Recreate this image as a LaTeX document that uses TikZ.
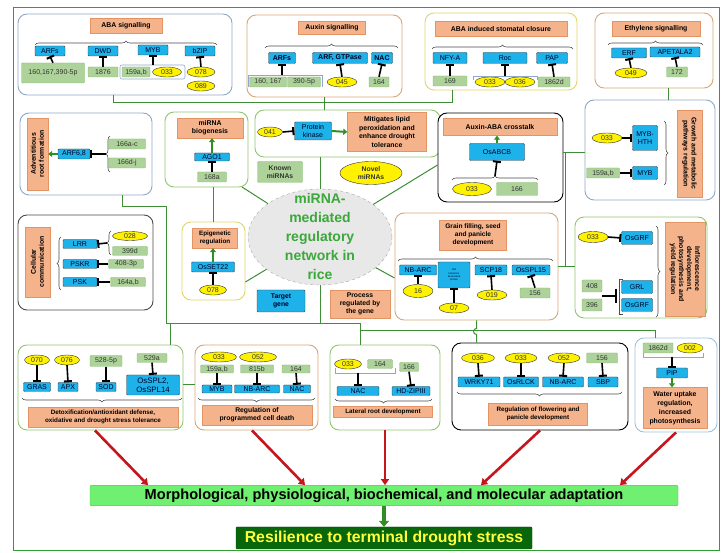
\documentclass[tikz,border=0pt]{standalone}
\usepackage{fontspec}
\setmainfont{Liberation Sans}
\usepackage{tikz}
\usetikzlibrary{arrows,arrows.meta,shapes.geometric,decorations.pathreplacing}
\definecolor{genec}{HTML}{1DB2EA}
\definecolor{mirc}{HTML}{AED39A}
\definecolor{mirline}{HTML}{8CBB76}
\definecolor{procc}{HTML}{F5B38C}
\definecolor{procline}{HTML}{E39464}
\definecolor{linkc}{HTML}{3D8E35}
\definecolor{framec}{HTML}{2FA02F}
\definecolor{bluegray}{HTML}{8FA8C8}
\definecolor{tanc}{HTML}{D9A677}
\definecolor{yelc}{HTML}{E3D46E}
\definecolor{grnc}{HTML}{93C571}
\definecolor{lblue}{HTML}{9CC3E0}
\definecolor{actc}{HTML}{2F8F23}
\definecolor{redc}{HTML}{C4161C}
\definecolor{adaptc}{HTML}{70F070}
\definecolor{adaptline}{HTML}{4CC44C}
\definecolor{resilc}{HTML}{0A660A}
\definecolor{resiltxt}{HTML}{FFFF3C}
\definecolor{hubc}{HTML}{3AA83A}

\begin{document}
\begin{tikzpicture}[x=1pt,y=-1pt,
  panel/.style={draw=#1,line width=0.9pt,rounded corners=9pt,fill=white},
  gene/.style={draw=black!75,fill=genec,text=black!85!blue,rounded corners=1pt,inner sep=0.5pt,minimum height=10pt,font=\fontsize{7}{7.5}\selectfont,align=center},
  bgene/.style={gene,font=\fontsize{7}{7.5}\selectfont\bfseries},
  mir/.style={draw=mirline,fill=mirc,text=black!80,rounded corners=1pt,inner sep=0.5pt,minimum height=10pt,font=\fontsize{7}{7.5}\selectfont,align=center},
  nov/.style={ellipse,draw=black!80,fill=yellow,text=black!80,inner sep=0pt,minimum height=10pt,minimum width=28pt,font=\fontsize{7}{7.5}\selectfont,align=center},
  proc/.style={draw=procline,fill=procc,inner sep=1pt,font=\fontsize{6.9}{8}\selectfont\bfseries,align=center},
  sproc/.style={proc,font=\fontsize{6.3}{7.5}\selectfont\bfseries},
  link/.style={draw=linkc,line width=1pt},
  inhib/.style={line width=1.6pt,black,-{Bar[width=8pt,line width=2pt]}},
  act/.style={line width=2pt,actc,-{Triangle[width=6pt,length=4pt]}},
  redarr/.style={line width=2.6pt,redc,-{Triangle[width=8pt,length=6pt]}},
  grp/.style={decorate,decoration={brace,amplitude=4pt},draw=black!70,line width=0.6pt},
  bkt/.style={draw=bluegray,line width=0.6pt}]
  \useasboundingbox (0,0) rectangle (724,553);
  \draw[framec,line width=1pt] (13,8) rectangle (719,551);

  \node[panel=bluegray,minimum width=214pt,minimum height=81pt] (abasig) at (125,54.5) {};
  \node[panel=tanc,minimum width=155pt,minimum height=82pt] (auxsig) at (324.5,56) {};
  \node[panel=yelc,minimum width=152pt,minimum height=77pt] (stoma) at (501,51.5) {};
  \node[panel=tanc,minimum width=118pt,minimum height=75pt] (ethyl) at (654,50.5) {};
  \node[panel=bluegray,minimum width=132pt,minimum height=82pt] (advroot) at (86,154) {};
  \node[panel=grnc,minimum width=83pt,minimum height=75pt] (biogen) at (206.5,149.5) {};
  \node[panel=grnc,minimum width=185pt,minimum height=47pt] (lipid) at (347.5,133.5) {};
  \node[panel=black,minimum width=125pt,minimum height=89pt] (crosstalk) at (500.5,157.5) {};
  \node[panel=bluegray,minimum width=130pt,minimum height=100pt] (growth) at (650,150) {};
  \node[panel=black!70,minimum width=135pt,minimum height=95pt] (cellcom) at (85.5,262.5) {};
  \node[panel=yelc,minimum width=63pt,minimum height=78pt] (epigen) at (213.5,261) {};
  \node[panel=tanc,minimum width=163pt,minimum height=107pt] (grain) at (476.5,266.5) {};
  \node[panel=grnc,minimum width=132pt,minimum height=101pt] (infl) at (641,267.5) {};
  \node[panel=grnc,minimum width=165pt,minimum height=85pt] (detox) at (100.5,387.5) {};
  \node[panel=tanc,minimum width=123pt,minimum height=85pt] (pcd) at (256.5,387.5) {};
  \node[panel=grnc,minimum width=110pt,minimum height=85pt] (latroot) at (385,387.5) {};
  \node[panel=black,minimum width=176pt,minimum height=87pt] (flower) at (540,386.5) {};
  \node[panel=lblue,minimum width=82pt,minimum height=94pt] (water) at (676,385) {};
  \node[ellipse,draw=gray!70,dashed,fill=gray!18,minimum width=144pt,minimum height=96pt] (hub) at (320,237) {};
  \node[text=hubc,font=\fontsize{14}{19}\selectfont\bfseries,align=center] (hubtxt) at (320,236) {miRNA-\\mediated\\regulatory\\network in\\rice};

  \coordinate (t1) at (113,103);
  \coordinate (t2) at (452,103);
  \coordinate (r1) at (565,153);
  \coordinate (r2) at (565,267);
  \coordinate (b1) at (122,207);
  \coordinate (b2) at (166,207);
  \coordinate (b3) at (166,324);
  \coordinate (b4) at (360,324);
  \coordinate (b5) at (360,331);
  \coordinate (b6) at (655,331);
  \draw[link] (abasig.south -| t1) -- (t1) -- (t2) -- (stoma.south -| t2);
  \draw[link] (auxsig.south) -- (lipid.north -| auxsig.south);
  \draw[link] (ethyl.south -| 668,0) -- (growth.north -| 668,0);
  \draw[link] (biogen.south -| epigen.north) -- (epigen.north);
  \draw[link] (242,187) -- (hub);
  \draw[link] (lipid.south -| hub.north) -- (hub.north);
  \draw[link] (crosstalk.west |- 0,165) -- (hub);
  \draw[link] (epigen.east |- 0,282) -- (hub);
  \draw[link] (grain.west |- 0,278) -- (hub);
  \draw[link] (crosstalk.east |- r1) -- (growth.west |- r1);
  \draw[link] (r1) -- (r2);
  \draw[link] (grain.east |- r2) -- (infl.west |- r2);
  \draw[link] (advroot.south -| b1) -- (b1) -- (b2) -- (b3) -- (b4) -- (latroot.north -| b4);
  \draw[link] (b5) -- (b6) -- (water.north -| b6);
  \draw[link] (170,324) -- (detox.north -| 170,324);
  \draw[link] (hub.south) -- (hub.south |- b4);
  \draw[link] (detox.east |- 0,385) -- (pcd.west |- 0,385);
  \draw[link] (grain.south) -- ++(0,8) arc[start angle=90,end angle=270,radius=3pt] -- (flower.north -| grain.south);

  \node[proc,minimum width=72pt,minimum height=15pt] (abalbl) at (126,26) {ABA signalling};
  \draw[grp] (35,45) -- (217,45);
  \node[gene,minimum width=30pt] (aarf) at (50,51) {ARFs};
  \node[gene,minimum width=30pt] (adwd) at (103,51) {DWD};
  \node[gene,minimum width=30pt] (amyb) at (153,50) {MYB};
  \node[gene,minimum width=30pt] (abzip) at (200,51) {bZIP};
  \node[mir,minimum width=63pt,minimum height=20pt] (am1) at (53,73) {160,167,390-5p};
  \node[mir,minimum width=30pt] (am2) at (103,72) {1876};
  \node[mir,minimum width=28pt] (am3) at (136,72) {159a,b};
  \node[nov,minimum width=29pt] (an1) at (167,72) {033};
  \node[nov] (an2) at (201,72) {078};
  \node[nov] (an3) at (201,86) {089};
  \draw[bkt,rounded corners=2pt] (120,65) rectangle (185,79);
  \path[inhib] (am1.north) edge (aarf.south) (am2.north) edge (adwd.south) (153,65) edge (amyb.south) (an2.north) edge (abzip.south);

  \node[proc,minimum width=67pt,minimum height=13pt] (auxlbl) at (332,28) {Auxin signalling};
  \draw[grp] (265,48) -- (398,48);
  \node[bgene,minimum width=27pt,minimum height=11pt] (xarf) at (282,58) {ARFs};
  \node[bgene,minimum width=55pt,minimum height=11pt] (xgtp) at (340,58) {ARF, GTPase};
  \node[bgene,minimum width=21pt,minimum height=11pt] (xnac) at (382,58) {NAC};
  \node[mir,minimum width=37pt] (xm1) at (268,82) {160, 167};
  \node[mir,minimum width=33pt] (xm2) at (304,82) {390-5p};
  \node[nov,minimum width=30pt] (xn1) at (342,82) {045};
  \node[mir,minimum width=20pt] (xm3) at (379,82) {164};
  \draw[bkt] (248,87) -- (248,75) -- (322,75) -- (322,87);
  \path[inhib] (xarf.south |- 0,75) edge (xarf.south) (xn1.north) edge (xgtp.south) (xm3.north) edge (xnac.south);

  \node[proc,minimum width=132pt,minimum height=15pt] (stolbl) at (501,29) {ABA induced stomatal closure};
  \draw[grp] (432,49) -- (573,49);
  \node[gene,minimum width=34pt,minimum height=11pt] (snfy) at (450,58) {NFY-A};
  \node[gene,minimum width=44pt,minimum height=11pt] (sroc) at (505,58) {Roc};
  \node[gene,minimum width=31pt,minimum height=11pt] (spap) at (552,58) {PAP};
  \node[mir,minimum width=34pt] (sm1) at (450,81) {169};
  \node[nov,minimum width=30pt] (sn1) at (490,82) {033};
  \node[nov,minimum width=30pt] (sn2) at (520,82) {036};
  \node[mir,minimum width=32pt] (sm2) at (554,82) {1862d};
  \draw[bkt] (473,80) -- (473,76) -- (537,76) -- (537,80);
  \path[inhib] (sm1.north) edge (snfy.south) (505,76) edge (sroc.south) (sm2.north) edge (spap.south);

  \node[proc,minimum width=88pt,minimum height=15pt] (ethlbl) at (656,29) {Ethylene signalling};
  \draw[grp] (608,45) -- (703,45);
  \node[gene,minimum width=35pt] (eerf) at (629,53) {ERF};
  \node[gene,minimum width=50pt] (eap2) at (675,52) {APETALA2};
  \node[nov,minimum width=32pt] (en1) at (631,73) {049};
  \node[mir,minimum width=21pt] (em1) at (677,72) {172};
  \path[inhib] (en1.north) edge (eerf.south) (em1.north) edge (eap2.south);

  \node[proc,rotate=90,minimum width=72pt,minimum height=21pt] (advlbl) at (37.5,154) {Adventitious\\root formation};
  \node[gene,minimum width=32pt] (varf) at (74,154) {ARF6,8};
  \draw[grp] (110,172) -- (110,136);
  \node[mir,minimum width=37pt] (vm1) at (127,144) {166a-c};
  \node[mir,minimum width=37pt] (vm2) at (127,163) {166d-j};
  \draw[act] (varf.west) -- (advlbl.south);
  \path[inhib] (106,154) edge (varf.east);

  \node[proc,minimum width=66pt,minimum height=20pt] (biolbl) at (210,128) {miRNA\\biogenesis};
  \node[gene,minimum width=35pt,minimum height=8pt] (bago) at (212,157) {AGO1};
  \node[mir,minimum width=29pt] (bm1) at (212,177) {168a};
  \draw[act] (bago.north) -- (biolbl.south -| bago.north);
  \path[inhib] (bm1.north) edge (bago.south);

  \node[nov,minimum width=25pt] (ln1) at (270,132) {041};
  \node[gene,minimum width=37pt,minimum height=18pt] (lpk) at (313,131) {Protein\\kinase};
  \node[proc,minimum width=79pt,minimum height=39pt,font=\fontsize{6.9}{8.5}\selectfont\bfseries] (liplbl) at (387,132) {Mitigates lipid\\peroxidation and\\enhance drought\\tolerance};
  \path[inhib] (ln1.east) edge (lpk.west);
  \draw[act] (lpk.east) -- (liplbl.west);

  \node[mir,minimum width=45pt,minimum height=21pt,font=\fontsize{6.8}{7.8}\selectfont\bfseries] (known) at (280,172) {Known\\miRNAs};
  \node[nov,minimum width=62pt,minimum height=23pt,font=\fontsize{6.8}{7.8}\selectfont\bfseries] (novel) at (371,173) {Novel\\miRNAs};
  \node[gene,minimum width=48pt,minimum height=22pt,font=\fontsize{6.8}{7.8}\selectfont\bfseries] (target) at (281,301) {Target\\gene};
  \node[proc,minimum width=60pt,minimum height=28pt,font=\fontsize{6.8}{8.2}\selectfont\bfseries] (procl) at (360,304) {Process\\regulated by\\the gene};

  \node[proc,minimum width=114pt,minimum height=17pt] (crlbl) at (500,127) {Auxin-ABA crosstalk};
  \node[gene,minimum width=55pt,minimum height=17pt] (cabc) at (497,152) {OsABCB};
  \draw[grp] (452,180) -- (538,180);
  \node[nov,minimum width=39pt,minimum height=13pt] (cn1) at (472,189) {033};
  \node[mir,minimum width=41pt,minimum height=13pt] (cm1) at (517,189) {166};
  \draw[act] (cabc.north) -- (crlbl.south -| cabc.north);
  \path[inhib] (495,176) edge (cabc.south);

  \node[proc,rotate=-90,minimum width=87pt,minimum height=25pt] (grlbl) at (689.5,153.5) {Growth and metabolic\\pathways regulation};
  \node[nov,minimum width=30pt] (gn1) at (607,138) {033};
  \node[gene,minimum width=25pt,minimum height=25pt] (ghth) at (645,138) {MYB-\\HTH};
  \node[mir,minimum width=33pt] (gm1) at (603,173) {159a,b};
  \node[gene,minimum width=25pt,minimum height=13pt] (gmyb) at (645,173) {MYB};
  \draw[grp] (664,121) -- (664,185);
  \path[inhib] (gn1.east) edge (ghth.west) (gm1.east) edge (gmyb.west);

  \node[proc,rotate=90,minimum width=70pt,minimum height=25pt] (cclbl) at (37.5,262) {Cellular\\communication};
  \draw[grp] (61,290) -- (61,237);
  \node[gene,minimum width=34pt,minimum height=9pt] (clrr) at (80,244) {LRR};
  \node[gene,minimum width=34pt,minimum height=9pt] (cpskr) at (80,264) {PSKR};
  \node[gene,minimum width=34pt,minimum height=9pt] (cpsk) at (80,282) {PSK};
  \draw[grp] (111,255) -- (111,231);
  \node[nov,minimum width=35pt,minimum height=9pt] (ccn1) at (130,236) {028};
  \node[mir,minimum width=35pt,minimum height=9pt] (ccm1) at (130,251) {399d};
  \node[mir,minimum width=35pt,minimum height=9pt] (ccm2) at (126,264) {408-3p};
  \node[mir,minimum width=35pt,minimum height=9pt] (ccm3) at (128,282) {164a,b};
  \path[inhib] (107,243) edge (clrr.east) (ccm2.west) edge (cpskr.east) (ccm3.west) edge (cpsk.east);

  \node[sproc,minimum width=45pt,minimum height=20pt] (eplbl) at (215,238) {Epigenetic\\regulation};
  \node[gene,minimum width=43pt] (eset) at (213,267) {OsSET22};
  \node[nov,minimum width=27pt] (epn1) at (213,290) {078};
  \draw[act] (eset.north) -- (eplbl.south -| eset.north);
  \path[inhib] (epn1.north) edge (eset.south);

  \node[sproc,minimum width=67pt,minimum height=30pt,font=\fontsize{6.6}{7.8}\selectfont\bfseries] (gflbl) at (473,235) {Grain filling, seed\\and panicle\\development};
  \draw[grp] (398,261) -- (553,261);
  \node[gene,minimum width=37pt] (fnb) at (418,270) {NB-ARC};
  \node[gene,minimum width=32pt,minimum height=26pt,font=\fontsize{2.6}{3.2}\selectfont] (fsalt) at (454,275) {Salt\\tolerance\\associated\\protein};
  \node[gene,minimum width=32pt] (fscp) at (491,270) {SCP18};
  \node[gene,minimum width=38pt] (fspl) at (531,270) {OsSPL15};
  \node[nov,minimum width=30pt,minimum height=13pt] (fn1) at (418,291) {16};
  \node[nov,minimum width=30pt] (fn2) at (454,308) {07};
  \node[nov,minimum width=30pt] (fn3) at (492,295) {019};
  \node[mir,minimum width=30pt] (fm1) at (535,293) {156};
  \path[inhib] (fn1.north) edge (fnb.south) (fn2.north) edge (fsalt.south) (fn3.north) edge (fscp.south) (fm1.north) edge (fspl.south);

  \node[proc,rotate=-90,minimum width=94pt,minimum height=40pt] (iflbl) at (685,269) {Inflorescence\\development,\\photosynthesis and\\yield regulation};
  \node[nov,minimum width=30pt,minimum height=11pt] (in1) at (593,237) {033};
  \node[gene,minimum width=31pt,minimum height=13pt] (igrf) at (637,238) {OsGRF};
  \node[gene,minimum width=31pt,minimum height=13pt] (igrl) at (637,287) {GRL};
  \node[gene,minimum width=31pt,minimum height=13pt] (igrf2) at (637,305) {OsGRF};
  \node[mir,minimum width=20pt,minimum height=12pt] (im1) at (592,286) {408};
  \node[mir,minimum width=20pt,minimum height=12pt] (im2) at (592,305) {396};
  \draw[grp] (656,226) -- (656,317);
  \draw[black!70,line width=0.6pt] (623,279) -- (619,279) -- (619,314) -- (623,314);
  \path[inhib] (in1.east) edge (igrf.west) (602,296) edge[-{Bar[width=14pt,line width=2pt]}] (617,296);

  \node[nov,minimum width=25pt] (dn1) at (37,360) {070};
  \node[nov,minimum width=25pt] (dn2) at (67,360) {076};
  \node[mir,minimum width=32pt,minimum height=11pt] (dm1) at (106,361) {528-5p};
  \node[mir,minimum width=30pt,minimum height=9pt] (dm2) at (152,358) {529a};
  \node[gene,minimum width=27pt,minimum height=9pt] (dgras) at (37,387) {GRAS};
  \node[gene,minimum width=20pt,minimum height=9pt] (dapx) at (68,387) {APX};
  \node[gene,minimum width=20pt,minimum height=9pt] (dsod) at (106,387) {SOD};
  \node[gene,minimum width=53pt,minimum height=20pt,font=\fontsize{7.8}{8.8}\selectfont] (dspl) at (153,385) {OsSPL2,\\OsSPL14};
  \draw[grp] (182,398) -- (22,398);
  \node[sproc,minimum width=150pt,minimum height=20pt] (dxlbl) at (103,417) {Detoxification/antioxidant defense,\\oxidative and drought stress tolerance};
  \path[inhib] (dn1.south) edge (dgras.north) (dn2.south) edge (dapx.north) (dm1.south) edge (dsod.north) (dm2.south) edge (dspl.north);

  \node[nov,minimum width=35pt] (pn1) at (219,357) {033};
  \node[nov,minimum width=37pt] (pn2) at (258,357) {052};
  \node[mir,minimum width=33pt,minimum height=8pt] (pm1) at (217,369) {159a,b};
  \node[mir,minimum width=33pt,minimum height=8pt] (pm2) at (257,369) {815b};
  \node[mir,minimum width=28pt,minimum height=8pt] (pm3) at (296,369) {164};
  \node[gene,minimum width=30pt,minimum height=8pt] (pmyb) at (217,389) {MYB};
  \node[gene,minimum width=45pt,minimum height=8pt] (pnb) at (257,389) {NB-ARC};
  \node[gene,minimum width=27pt,minimum height=8pt] (pnac) at (297,389) {NAC};
  \draw[grp] (315,398) -- (198,398);
  \node[sproc,minimum width=110pt,minimum height=20pt,font=\fontsize{6.8}{8}\selectfont\bfseries] (pclbl) at (257,415) {Regulation of\\programmed cell death};
  \path[inhib] (pm1.south) edge (pmyb.north) (pm2.south) edge (pnb.north) (pm3.south) edge (pnac.north);

  \node[nov,minimum width=27pt] (rn1) at (348,364) {033};
  \node[mir,minimum width=25pt,minimum height=9pt] (rm1) at (380,364) {164};
  \node[mir,minimum width=19pt,minimum height=9pt] (rm2) at (409,367) {166};
  \draw[bkt] (335,368) -- (335,373) -- (395,373) -- (395,368);
  \node[gene,minimum width=42pt,minimum height=9pt] (rnac) at (358,391) {NAC};
  \node[gene,minimum width=38pt,minimum height=9pt] (rhd) at (411,391) {HD-ZIPIII};
  \draw[grp] (432,399) -- (335,399);
  \node[sproc,minimum width=99pt,minimum height=11pt] (rllbl) at (383,412) {Lateral root development};
  \path[inhib] (rnac.north |- 0,373) edge (rnac.north) (rm2.south) edge (rhd.north);

  \node[nov,minimum width=33pt] (wn1) at (478,358) {036};
  \node[nov,minimum width=32pt] (wn2) at (521,358) {033};
  \node[nov,minimum width=32pt] (wn3) at (564,358) {052};
  \node[mir,minimum width=31pt] (wm1) at (602,358) {156};
  \node[gene,minimum width=42pt] (wwrk) at (479,382) {WRKY71};
  \node[gene,minimum width=35pt] (wrlk) at (521,382) {OsRLCK};
  \node[gene,minimum width=41pt] (wnb) at (563,382) {NB-ARC};
  \node[gene,minimum width=30pt] (wsbp) at (603,382) {SBP};
  \draw[grp] (622,392) -- (457,392);
  \node[sproc,minimum width=99pt,minimum height=22pt] (fllbl) at (538,414) {Regulation of flowering and\\panicle development};
  \path[inhib] (wn1.south) edge (wwrk.north) (wn2.south) edge (wrlk.north) (wn3.south) edge (wnb.north) (wm1.south) edge (wsbp.north);

  \node[mir,minimum width=30pt] (um1) at (658,348) {1862d};
  \node[nov,minimum width=26pt] (un1) at (690,348) {002};
  \draw[bkt] (643,353) -- (643,357) -- (703,357) -- (703,353);
  \node[gene,minimum width=31pt] (upip) at (672,373) {PIP};
  \node[proc,minimum width=64pt,minimum height=41pt,font=\fontsize{6.9}{9}\selectfont\bfseries] (uplbl) at (675,408) {Water uptake\\regulation,\\increased\\photosynthesis};
  \path[inhib] (upip.north |- 0,357) edge (upip.north);
  \draw[act] (upip.south) -- (uplbl.north -| upip.south);

  \node[draw=adaptline,fill=adaptc,rounded corners=1pt,minimum width=588pt,minimum height=17pt,font=\fontsize{14.6}{15}\selectfont\bfseries] (adapt) at (384,495.5) {Morphological, physiological, biochemical, and molecular adaptation};
  \node[draw=resilc!70!black,fill=resilc,rounded corners=1pt,minimum width=296pt,minimum height=22pt,inner sep=2pt,text=resiltxt,font=\fontsize{15.8}{17}\selectfont\bfseries] (resil) at (384,538) {Resilience to terminal drought stress};
  \draw[redarr] (detox.south -| 95,0) -- (adapt.north -| 148,0);
  \draw[redarr] (pcd.south -| 252,0) -- (adapt.north -| 305,0);
  \draw[redarr] (latroot.south) -- (adapt.north -| latroot.south);
  \draw[redarr] (flower.south) -- (adapt.north -| 481,0);
  \draw[redarr] (water.south) -- (adapt.north -| 620,0);
  \draw[act,line width=3.5pt,-{Triangle[width=10pt,length=6pt]}] (adapt.south) -- (resil.north);
\end{tikzpicture}
\end{document}
